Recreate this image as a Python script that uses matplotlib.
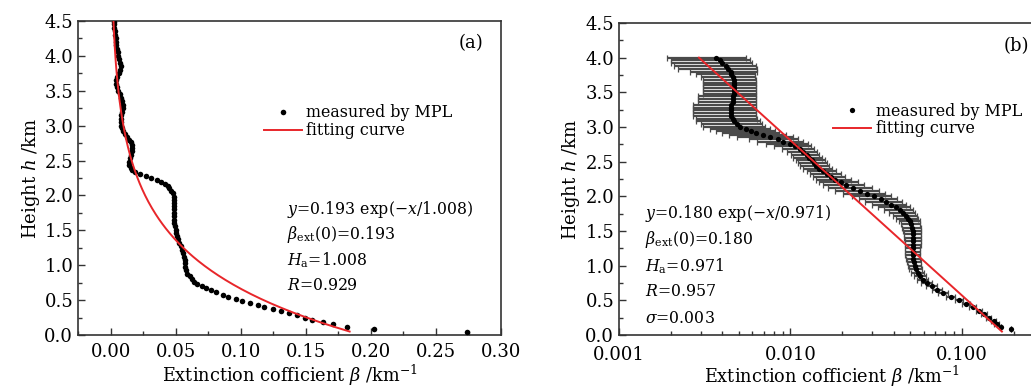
import matplotlib
matplotlib.use('Agg')
import numpy as np
import matplotlib.pyplot as plt
from matplotlib.ticker import MultipleLocator, FixedLocator, FormatStrFormatter, LogLocator, NullFormatter

plt.rcParams['font.family'] = 'DejaVu Serif'
plt.rcParams['mathtext.fontset'] = 'dejavuserif'

# panel (a): measured profile (height in km, extinction in km^-1)
height_a = [0.05, 0.08, 0.11, 0.155, 0.19, 0.22, 0.25, 0.28, 0.31, 0.34,
            0.37, 0.40, 0.43, 0.46, 0.49, 0.52, 0.55, 0.58, 0.61, 0.64,
            0.67, 0.70, 0.73, 0.76, 0.80, 0.84, 0.88, 0.93, 0.98, 1.03,
            1.08, 1.12, 1.17, 1.22, 1.27, 1.32, 1.37, 1.42, 1.46, 1.51,
            1.56, 1.61, 1.65, 1.70, 1.75, 1.80, 1.85, 1.89, 1.94, 1.98,
            2.03, 2.07, 2.10, 2.13, 2.16, 2.19, 2.22, 2.25, 2.28, 2.31,
            2.34, 2.37, 2.40, 2.44, 2.48, 2.53, 2.58, 2.63, 2.68, 2.72,
            2.76, 2.80, 2.84, 2.88, 2.92, 2.96, 3.00, 3.05, 3.10, 3.15,
            3.20, 3.25, 3.30, 3.35, 3.40, 3.45, 3.50, 3.55, 3.60, 3.65,
            3.70, 3.75, 3.80, 3.85, 3.90, 3.95, 4.00, 4.05, 4.10, 4.15,
            4.20, 4.25, 4.30, 4.35, 4.40, 4.45, 4.49]
beta_a = [0.274, 0.202, 0.182, 0.171, 0.163, 0.155, 0.149, 0.143, 0.137, 0.131,
          0.125, 0.118, 0.113, 0.107, 0.101, 0.096, 0.090, 0.086, 0.081, 0.077,
          0.073, 0.0700, 0.0665, 0.0640, 0.0625, 0.0608, 0.0590, 0.0580, 0.0574, 0.0572,
          0.0570, 0.0564, 0.0555, 0.0548, 0.0538, 0.0525, 0.0515, 0.0508, 0.0505, 0.0500,
          0.0495, 0.0490, 0.0487, 0.0487, 0.0487, 0.0487, 0.0487, 0.0487, 0.0487, 0.0485,
          0.0480, 0.0465, 0.0452, 0.0440, 0.0418, 0.0390, 0.0355, 0.0310, 0.0270, 0.0225,
          0.0190, 0.0165, 0.0155, 0.0145, 0.0142, 0.0147, 0.0155, 0.0163, 0.0168, 0.0165,
          0.0155, 0.0140, 0.0125, 0.0110, 0.0098, 0.0088, 0.0082, 0.0080, 0.0080, 0.0082,
          0.0086, 0.0092, 0.0095, 0.0090, 0.0082, 0.0070, 0.0058, 0.0048, 0.0040, 0.0038,
          0.0048, 0.0062, 0.0072, 0.0077, 0.0075, 0.0065, 0.0058, 0.0054, 0.0048, 0.0045,
          0.0042, 0.0038, 0.0034, 0.0031, 0.0029, 0.0027, 0.0025]

# panel (b): measured profile with error
height_b = [4.00, 3.96, 3.92, 3.88, 3.84, 3.80, 3.76, 3.72, 3.68, 3.64,
            3.60, 3.56, 3.52, 3.48, 3.44, 3.40, 3.36, 3.32, 3.28, 3.24,
            3.20, 3.16, 3.12, 3.08, 3.04, 3.00, 2.97, 2.94, 2.91, 2.88,
            2.85, 2.82, 2.79, 2.76, 2.72, 2.68, 2.64, 2.60, 2.56, 2.52,
            2.48, 2.44, 2.40, 2.36, 2.32, 2.28, 2.24, 2.20, 2.16, 2.12,
            2.08, 2.04, 2.00, 1.96, 1.92, 1.88, 1.84, 1.80, 1.76, 1.72,
            1.68, 1.64, 1.60, 1.55, 1.50, 1.45, 1.40, 1.35, 1.30, 1.25,
            1.20, 1.15, 1.10, 1.05, 1.00, 0.95, 0.90, 0.85, 0.80, 0.75,
            0.70, 0.65, 0.60, 0.55, 0.50, 0.45, 0.40, 0.35, 0.30, 0.25,
            0.20, 0.16, 0.11, 0.08]
beta_b = [0.0037, 0.0039, 0.0040, 0.0042, 0.0043, 0.0045, 0.0045, 0.0046, 0.0047, 0.0047,
          0.0047, 0.0047, 0.0047, 0.0047, 0.0046, 0.0046, 0.0046, 0.0045, 0.0045, 0.0045,
          0.0045, 0.0045, 0.0046, 0.0047, 0.0049, 0.0051, 0.0055, 0.0059, 0.0063, 0.0069,
          0.0076, 0.0084, 0.0091, 0.0099, 0.0106, 0.0113, 0.0119, 0.0124, 0.0128, 0.0133,
          0.0137, 0.0141, 0.0147, 0.0154, 0.0163, 0.0172, 0.0183, 0.0196, 0.0212, 0.0232,
          0.0255, 0.0280, 0.0308, 0.0335, 0.0360, 0.0385, 0.0410, 0.0433, 0.0455, 0.0470,
          0.0485, 0.0497, 0.0506, 0.0513, 0.0517, 0.0519, 0.0520, 0.0520, 0.0519, 0.0518,
          0.0518, 0.0519, 0.0521, 0.0525, 0.0530, 0.0540, 0.0553, 0.0570, 0.0592, 0.0625,
          0.0665, 0.0715, 0.0775, 0.0860, 0.0960, 0.1060, 0.1160, 0.1260, 0.1350, 0.1430,
          0.1530, 0.1600, 0.1700, 0.1920]
err_b = [0.0018, 0.0019, 0.0020, 0.0021, 0.0021, 0.0019, 0.0017, 0.0016, 0.0016, 0.0016,
         0.0016, 0.0016, 0.0016, 0.0016, 0.0017, 0.0017, 0.0017, 0.0018, 0.0018, 0.0018,
         0.0018, 0.0018, 0.0018, 0.0019, 0.0019, 0.0020, 0.0021, 0.0022, 0.0023, 0.0025,
         0.0027, 0.0027, 0.0027, 0.0027, 0.0026, 0.0024, 0.0023, 0.0023, 0.0024, 0.0025,
         0.0026, 0.0027, 0.0028, 0.0030, 0.0033, 0.0037, 0.0042, 0.0050, 0.0058, 0.0066,
         0.0073, 0.0078, 0.0080, 0.0084, 0.0087, 0.0088, 0.0086, 0.0083, 0.0080, 0.0076,
         0.0072, 0.0069, 0.0067, 0.0065, 0.0063, 0.0060, 0.0058, 0.0056, 0.0055, 0.0053,
         0.0052, 0.0051, 0.0050, 0.0049, 0.0048, 0.0047, 0.0046, 0.0046, 0.0046, 0.0047,
         0.0048, 0.0050, 0.0052, 0.0054, 0.0055, 0.0055, 0.0055, 0.0055, 0.0055, 0.0055,
         0.0055, 0.0055, 0.0, 0.0]

# fitted exponential: beta = b0 * exp(-h / Ha), drawn over the height range of each fit
fit_a = (0.193, 1.008)
fit_b = (0.180, 0.971)
fit_range_a = (0.05, 4.5)
fit_range_b = (0.05, 4.0)

text_a = ['$y$=0.193 exp(\u2212$x$/1.008)', r'$\beta_{\rm ext}$(0)=0.193',
          r'$H_{\rm a}$=1.008', '$R$=0.929']
text_b = ['$y$=0.180 exp(\u2212$x$/0.971)', r'$\beta_{\rm ext}$(0)=0.180',
          r'$H_{\rm a}$=0.971', '$R$=0.957', r'$\sigma$=0.003']

red = '#e8262a'
spine_col = '#333333'

fig = plt.figure(figsize=(10.31, 3.89), dpi=100)
ax1 = fig.add_axes([0.0757, 0.1388, 0.4103, 0.8072])
ax2 = fig.add_axes([0.6004, 0.1388, 0.4120, 0.8021])


def fit_curve(params, h_range):
    b0, ha = params
    hs = np.linspace(h_range[0], h_range[1], 200)
    return b0 * np.exp(-hs / ha), hs


def style_axis(ax, xpad, xlabelpad):
    for s in ax.spines.values():
        s.set_color(spine_col)
        s.set_linewidth(1.2)
    ax.tick_params(which='both', direction='in', top=False, right=False,
                   labelsize=13, color=spine_col, width=1.0)
    ax.tick_params(which='major', length=5)
    ax.tick_params(which='minor', length=3)
    ax.tick_params(axis='x', which='major', pad=xpad)
    ax.set_ylim(0, 4.5)
    ax.yaxis.set_major_locator(MultipleLocator(0.5))
    ax.yaxis.set_minor_locator(MultipleLocator(0.25))
    ax.yaxis.set_major_formatter(FormatStrFormatter('%.1f'))
    ax.set_ylabel('Height $h$ /km', fontsize=13, labelpad=2)
    ax.set_xlabel(r'Extinction cofficient $\beta$ /km$^{-1}$', fontsize=12.8, labelpad=xlabelpad)


# (a)
ax1.plot(beta_a, height_a, 'o', color='black', markersize=4, markeredgewidth=0,
         label='measured by MPL', zorder=3)
xa, ha = fit_curve(fit_a, fit_range_a)
ax1.plot(xa, ha, color=red, linewidth=1.4, label='fitting curve', zorder=4)
ax1.set_xlim(-0.025, 0.30)
ax1.xaxis.set_major_locator(MultipleLocator(0.05))
ax1.xaxis.set_minor_locator(MultipleLocator(0.025))
ax1.xaxis.set_major_formatter(FormatStrFormatter('%.2f'))
style_axis(ax1, 6, 1)
ax1.text(0.957, 0.93, '(a)', transform=ax1.transAxes, fontsize=13, ha='right', va='center')
for i, t in enumerate(text_a):
    ax1.text(0.495, 0.40 - i * 0.081, t, transform=ax1.transAxes, fontsize=11.3, va='center')
ax1.legend(loc='upper left', bbox_to_anchor=(0.42, 0.76), frameon=False, fontsize=11.4,
           handlelength=2.4, handletextpad=0.3, labelspacing=0.05, borderpad=0)

# (b)
eb = ax2.errorbar(beta_b, height_b, xerr=err_b, fmt='none', ecolor='#4a4a4a',
                  elinewidth=1.6, capsize=2, capthick=0.9, zorder=2)
for cap in eb[1]:
    cap.set_color('#111111')
ax2.plot(beta_b, height_b, 'o', color='black', markersize=3.8, markeredgewidth=0,
         label='measured by MPL', zorder=3)
xb, hb = fit_curve(fit_b, fit_range_b)
ax2.plot(xb, hb, color=red, linewidth=1.4, label='fitting curve', zorder=4)
ax2.set_xscale('log')
ax2.set_xlim(0.001, 0.3)
ax2.xaxis.set_major_locator(FixedLocator([0.001, 0.01, 0.1]))
ax2.xaxis.set_major_formatter(FormatStrFormatter('%.3f'))
ax2.xaxis.set_minor_locator(LogLocator(base=10, subs=np.arange(2, 10)))
ax2.xaxis.set_minor_formatter(NullFormatter())
style_axis(ax2, 8, 0)
ax2.text(0.935, 0.925, '(b)', transform=ax2.transAxes, fontsize=13, ha='center', va='center')
for i, t in enumerate(text_b):
    ax2.text(0.062, 0.39 - i * 0.084, t, transform=ax2.transAxes, fontsize=11.3, va='center')
ax2.legend(loc='upper left', bbox_to_anchor=(0.485, 0.77), frameon=False, fontsize=11.4,
           handlelength=2.4, handletextpad=0.3, labelspacing=0.05, borderpad=0)

fig.savefig('out.png', dpi=100)
